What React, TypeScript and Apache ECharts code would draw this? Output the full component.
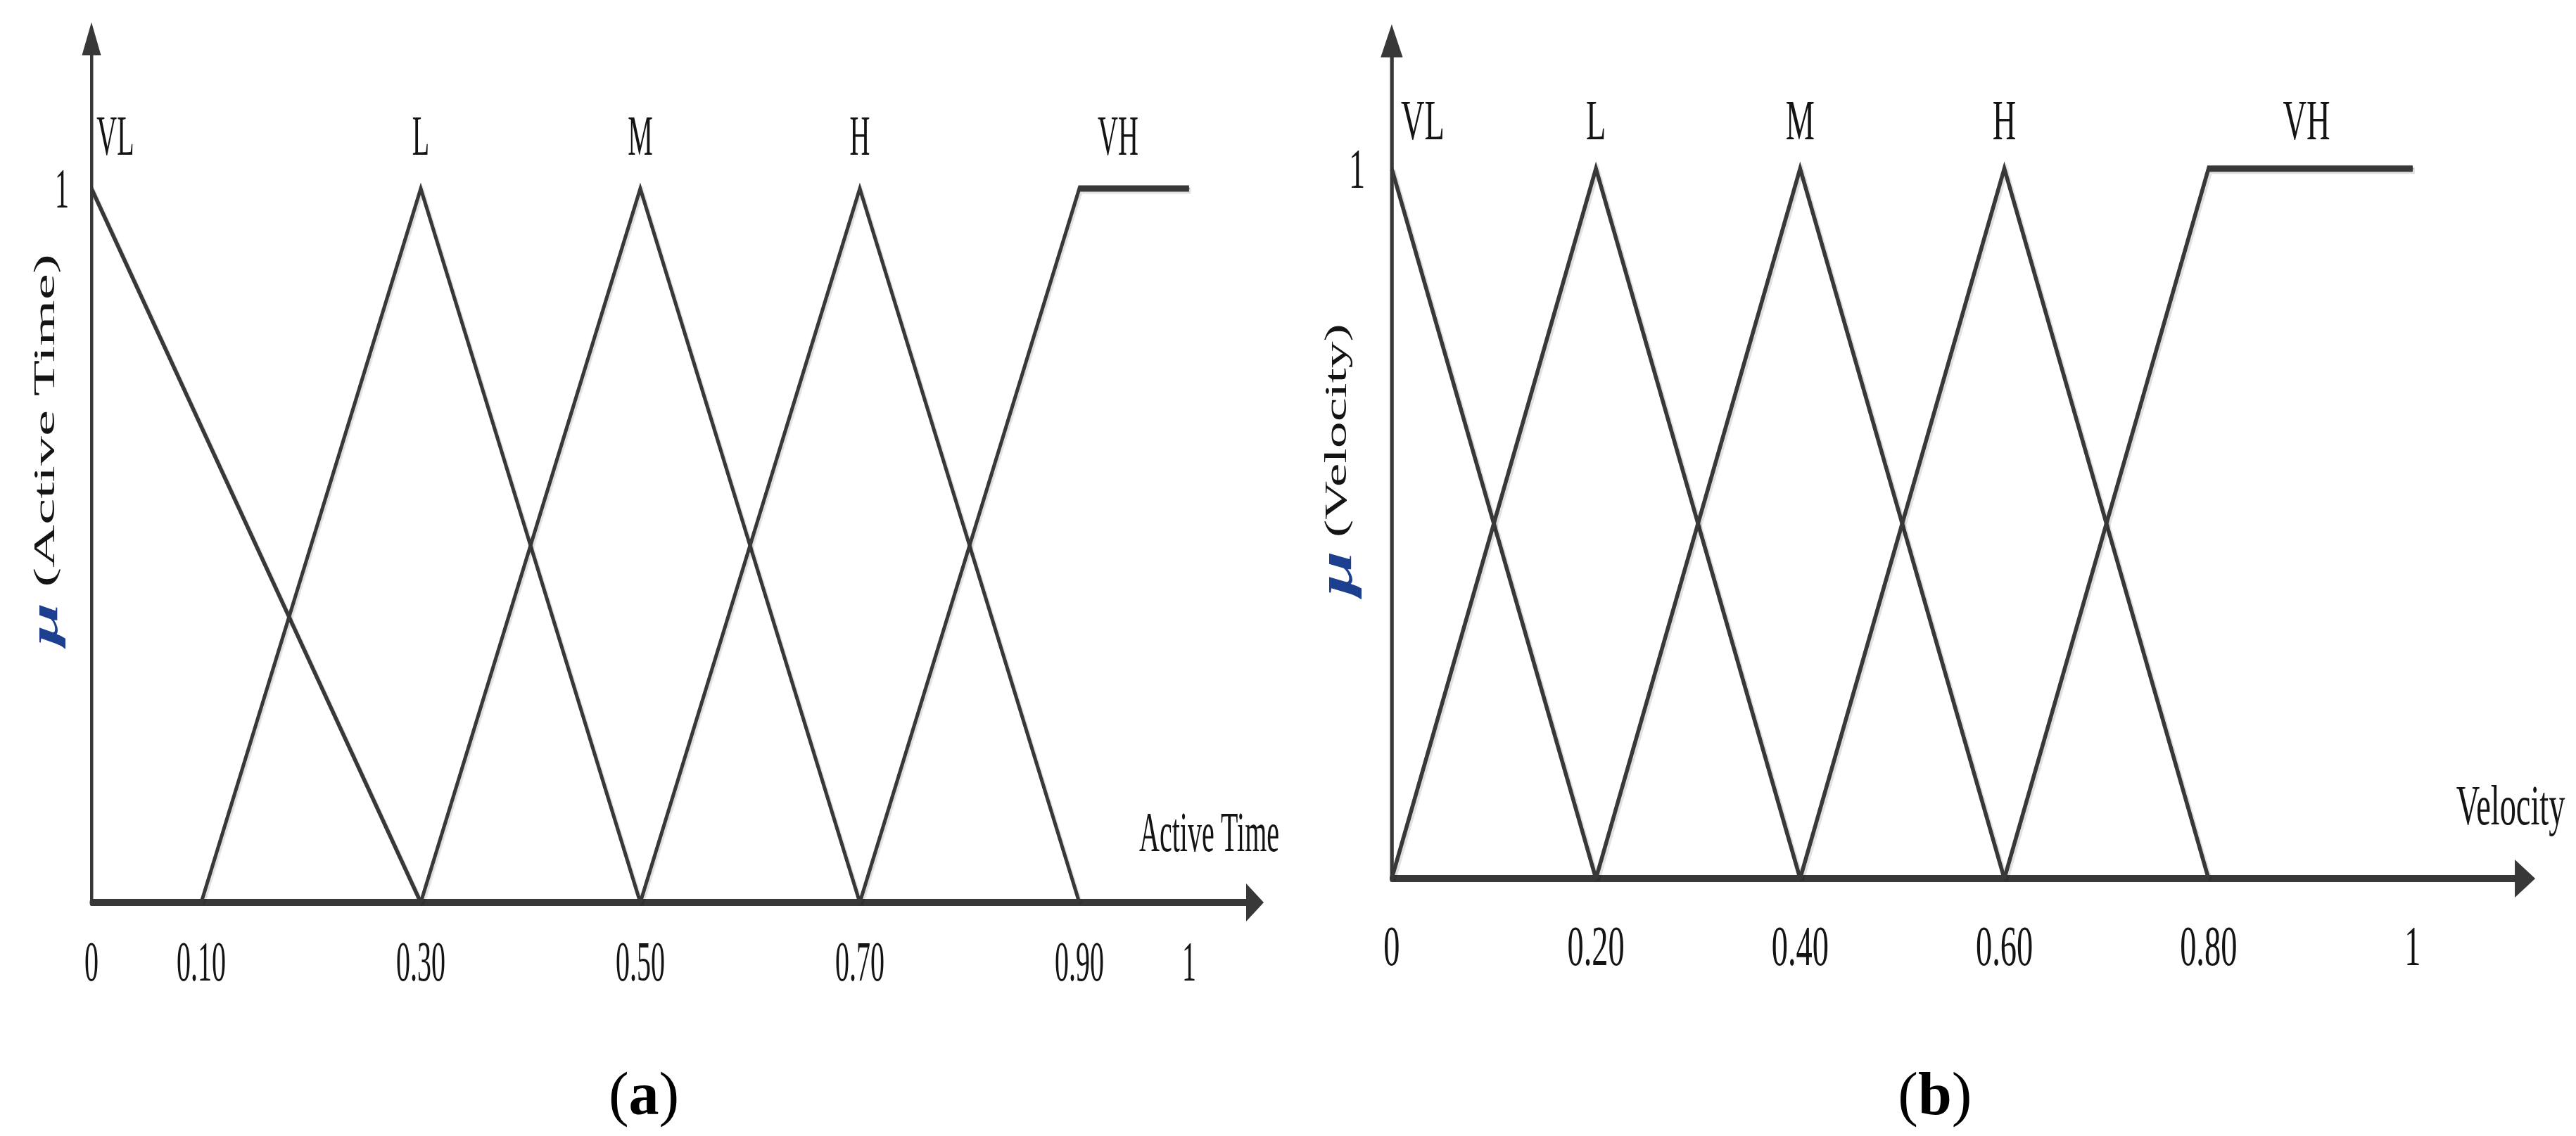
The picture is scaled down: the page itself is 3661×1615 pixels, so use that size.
import React, { useEffect, useRef } from 'react';
import * as echarts from 'echarts';

// ---------------- data ----------------
const SET_NAMES = ['VL', 'L', 'M', 'H', 'VH'];
const Y_TICKS = [1];

// (a) Active Time
const AT_TICKS = [0, 0.1, 0.3, 0.5, 0.7, 0.9, 1];
const AT_VL = [[0, 1], [0.3, 0]];
const AT_L = [[0.1, 0], [0.3, 1], [0.5, 0]];
const AT_M = [[0.3, 0], [0.5, 1], [0.7, 0]];
const AT_H = [[0.5, 0], [0.7, 1], [0.9, 0]];
const AT_VH = [[0.7, 0], [0.9, 1], [1, 1]];
const AT_PEAK = [0, 1, 1, 1, 1];

// (b) Velocity
const V_TICKS = [0, 0.2, 0.4, 0.6, 0.8, 1];
const V_VL = [[0, 1], [0.2, 0]];
const V_L = [[0, 0], [0.2, 1], [0.4, 0]];
const V_M = [[0.2, 0], [0.4, 1], [0.6, 0]];
const V_H = [[0.4, 0], [0.6, 1], [0.8, 0]];
const V_VH = [[0.6, 0], [0.8, 1], [1, 1]];
const V_PEAK = [0, 1, 1, 1, 1];

// ---------------- styles / layout ----------------
const PAGE_W = 3661;
const PAGE_H = 1615;
const FONT = '"Liberation Serif", "Times New Roman", serif';
const INK = '#383838';
const TEXT = '#141414';
const MU_COLOR = '#1d3f8f';

type Panel = {
  screenLeft: number;
  width: number;
  squeeze: number;
  grid: { left: number; right: number; top: number; bottom: number };
  xMax: number;
  yMax: number;
  ticks: number[];
  sets: number[][][];
  peaks: number[];
  labelOffsets: number[][];
  labelDistance: number;
  xLabelMargin: number;
  yLabelMargin: number;
  xName: string;
  xNameGap: number;
  xNamePad: number;
  yTitle: string;
  yNameSize: number;
  muSize: number;
  yNameGap: number;
  yNameShift: number;
  caption: string;
  capX: number;
  capY: number;
};

const PANEL_A: Panel = {
  screenLeft: 0,
  width: 3660,
  squeeze: 0.5,
  grid: { left: 260, right: 93, top: 55, bottom: 332 },
  xMax: 1.06,
  yMax: 1.21,
  ticks: AT_TICKS,
  sets: [AT_VL, AT_L, AT_M, AT_H, AT_VH],
  peaks: AT_PEAK,
  labelOffsets: [[68, 0], [0, 0], [0, 0], [0, 0], [110, 0]],
  labelDistance: 34,
  xLabelMargin: 44,
  yLabelMargin: 64,
  xName: 'Active Time',
  xNameGap: 69,
  xNamePad: 60,
  yTitle: '(Active Time)',
  yNameSize: 84,
  muSize: 110,
  yNameGap: 80,
  yNameShift: 60,
  caption: '({b|a})',
  capX: 1830,
  capY: 1555,
};

const PANEL_B: Panel = {
  screenLeft: 1830,
  width: 3157,
  squeeze: 0.58,
  grid: { left: 255, right: 125, top: 58, bottom: 366 },
  xMax: 1.11,
  yMax: 1.18,
  ticks: V_TICKS,
  sets: [V_VL, V_L, V_M, V_H, V_VH],
  peaks: V_PEAK,
  labelOffsets: [[76, 0], [0, 0], [0, 0], [0, 0], [240, 0]],
  labelDistance: 28,
  xLabelMargin: 56,
  yLabelMargin: 65,
  xName: 'Velocity',
  xNameGap: 98,
  xNamePad: 64,
  yTitle: '(Velocity)',
  yNameSize: 76,
  muSize: 115,
  yNameGap: 80,
  yNameShift: 0,
  caption: '({b|b})',
  capX: 1586,
  capY: 1555,
};

const fmtTick = (v: number) => (v === 0 || v === 1 ? String(v) : v.toFixed(2));

function buildOption(p: Panel): any {
  const series = p.sets.map((pts, i) => ({
    type: 'line',
    name: SET_NAMES[i],
    data: pts.map((pt, j) =>
      j === p.peaks[i]
        ? {
            value: pt,
            label: {
              show: true,
              formatter: SET_NAMES[i],
              position: 'top',
              distance: p.labelDistance,
              offset: p.labelOffsets[i],
              color: TEXT,
              fontFamily: FONT,
              fontSize: 80,
            },
          }
        : { value: pt }
    ),
    symbol: 'circle',
    symbolSize: 2,
    showSymbol: true,
    itemStyle: { color: INK },
    lineStyle: {
      color: INK,
      width: 9,
      join: 'miter',
      cap: 'butt',
      shadowColor: 'rgba(0,0,0,0.12)',
      shadowBlur: 0,
      shadowOffsetX: 5,
      shadowOffsetY: 3,
    },
    label: { show: false },
    clip: false,
    silent: true,
    z: 3,
  }));

  return {
    animation: false,
    backgroundColor: '#ffffff',
    grid: { ...p.grid, containLabel: false, outerBoundsMode: 'none' },
    xAxis: {
      type: 'value',
      min: 0,
      max: p.xMax,
      axisLine: {
        show: true,
        onZero: true,
        symbol: ['none', 'triangle'],
        symbolSize: [54, 50],
        lineStyle: { color: INK, width: 10 },
      },
      axisTick: { show: false },
      splitLine: { show: false },
      axisLabel: {
        customValues: p.ticks,
        formatter: fmtTick,
        margin: p.xLabelMargin,
        color: TEXT,
        fontFamily: FONT,
        fontSize: 80,
      },
      name: p.xName,
      nameLocation: 'end',
      nameGap: p.xNameGap,
      nameMoveOverlap: false,
      nameTextStyle: {
        align: 'right',
        verticalAlign: 'bottom',
        padding: [0, 0, p.xNamePad, 0],
        color: TEXT,
        fontFamily: FONT,
        fontSize: 80,
      },
    },
    yAxis: {
      type: 'value',
      min: 0,
      max: p.yMax,
      axisLine: {
        show: true,
        onZero: true,
        symbol: ['none', 'triangle'],
        symbolSize: [54, 47],
        lineStyle: { color: INK, width: 9 },
      },
      axisTick: { show: false },
      splitLine: { show: false },
      axisLabel: {
        customValues: Y_TICKS,
        formatter: fmtTick,
        margin: p.yLabelMargin,
        color: TEXT,
        fontFamily: FONT,
        fontSize: 80,
      },
      name: '{mu|μ} ' + p.yTitle,
      nameLocation: 'middle',
      nameGap: p.yNameGap,
      nameMoveOverlap: false,
      nameTextStyle: {
        color: TEXT,
        fontFamily: FONT,
        fontSize: p.yNameSize,
        padding: [0, 0, 0, p.yNameShift],
        rich: {
          mu: {
            fontFamily: FONT,
            fontSize: p.muSize,
            fontWeight: 'bold',
            fontStyle: 'italic',
            color: MU_COLOR,
          },
        },
      },
    },
    series,
    graphic: [
      {
        type: 'text',
        x: p.capX,
        y: p.capY,
        scaleX: 1 / p.squeeze,
        silent: true,
        style: {
          text: p.caption,
          fontFamily: FONT,
          fontSize: 86,
          fill: '#000',
          align: 'center',
          verticalAlign: 'middle',
          textAlign: 'center',
          textVerticalAlign: 'middle',
          rich: {
            b: { fontFamily: FONT, fontSize: 86, fontWeight: 'bold', fill: '#000' },
          },
        },
      },
    ],
  };
}

function PanelChart({ p }: { p: Panel }) {
  const ref = useRef<HTMLDivElement>(null);
  useEffect(() => {
    if (!ref.current) return;
    const chart = echarts.init(ref.current, undefined, { renderer: 'svg' });
    chart.setOption(buildOption(p));
    return () => chart.dispose();
  }, [p]);
  return (
    <div
      ref={ref}
      style={{
        position: 'absolute',
        left: p.screenLeft,
        top: 0,
        width: p.width,
        height: PAGE_H,
        transform: `scaleX(${p.squeeze})`,
        transformOrigin: '0 0',
      }}
    />
  );
}

export default function App() {
  return (
    <div
      style={{
        position: 'absolute',
        left: 0,
        top: 0,
        width: PAGE_W,
        height: PAGE_H,
        overflow: 'hidden',
        background: '#ffffff',
      }}
    >
      <PanelChart p={PANEL_A} />
      <PanelChart p={PANEL_B} />
    </div>
  );
}
